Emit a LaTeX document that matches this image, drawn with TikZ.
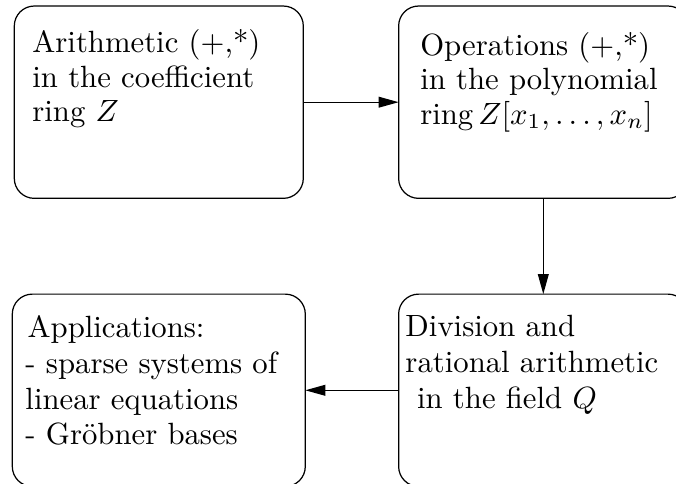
\documentclass[tikz,border=0pt]{standalone}
\usetikzlibrary{arrows.meta}

\begin{document}
\begin{tikzpicture}[
    x=0.3255pt, y=-0.3255pt,
    box/.style={draw, line width=0.4pt, rounded corners=6.5pt,
                inner sep=0pt, outer sep=0pt, minimum height=62.6pt},
    txt/.style={anchor=north west, inner sep=0pt, outer sep=0pt, align=left},
    flow/.style={draw, line width=0.4pt,
                 -{Triangle[length=6.5pt, width=3.5pt]}},
  ]
  % page frame: the boxes run past the right and bottom borders
  \useasboundingbox (0,0) rectangle (676,484);
  \clip (0,0) rectangle (676,484);

  % the four stages
  \node[box, minimum width=94.07pt] (ring)  at (158.8,102.2) {};
  \node[box, minimum width=94.17pt] (poly)  at (543.3,102.2) {};
  \node[box, minimum width=95.37pt] (appl)  at (158.8,390.3) {};
  \node[box, minimum width=94.17pt] (field) at (543.3,390.3) {};

  % box texts (a strut fixes the first baseline 8pt below the node top)
  \node[txt, font=\fontsize{10}{11.2}\selectfont] (ringtext) at ([yshift=8pt]32.4,53)
    {\rule{0pt}{8pt}Arithmetic (+,*)\\ in the coefficient\\ ring $Z$};
  \node[txt, font=\fontsize{10}{11.2}\selectfont] (polytext) at ([yshift=8pt]420.3,55.5)
    {\rule{0pt}{8pt}Operations (+,*)\\ in the polynomial\\ ring$\,Z[x_1,\ldots,x_n]$};
  \node[txt, font=\fontsize{10}{11.65}\selectfont] (appltext) at ([yshift=8pt]25.5,337.5)
    {\rule{0pt}{8pt}\hspace*{0.7pt}Applications:\\ - sparse systems of\\ linear equations\\ - Gröbner bases};
  \node[txt, font=\fontsize{10}{11.65}\selectfont] (fieldtext) at ([yshift=8pt]405.5,337)
    {\rule{0pt}{8pt}Division and\\ rational arithmetic\\ \hspace*{3.8pt}in the field $Q$};

  % connectors
  \path[flow] (ring.east) -- (poly.west);
  \path[flow] (poly.south) -- (field.north);
  \path[flow] (field.west) -- (appl.east);
\end{tikzpicture}
\end{document}
